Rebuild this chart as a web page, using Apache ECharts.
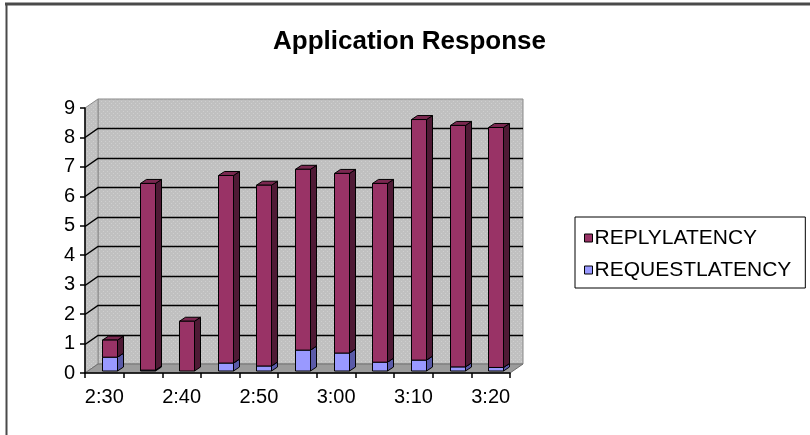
<!DOCTYPE html>
<html>
<head>
<meta charset="utf-8">
<script src="https://cdn.jsdelivr.net/npm/echarts@6/dist/echarts.min.js"></script>
<style>
  html, body { margin: 0; padding: 0; background: #fff; }
  #chart { width: 810px; height: 435px; }
</style>
</head>
<body>
<div id="chart"></div>
<script>
// Time slots along the category axis
const categories = ['2:30', '2:35', '2:40', '2:45', '2:50', '2:55', '3:00', '3:05', '3:10', '3:15', '3:20'];
// Stacked latency components
const requestLatency = [0.47, 0.03, 0, 0.27, 0.17, 0.71, 0.61, 0.30, 0.37, 0.14, 0.12];
const replyLatency   = [0.58, 6.34, 1.69, 6.37, 6.14, 6.14, 6.10, 6.07, 8.17, 8.20, 8.15];
// Value axis ticks
const yTicks = [0, 1, 2, 3, 4, 5, 6, 7, 8, 9];

const FONT = 'Liberation Sans, Arial, sans-serif';
// depth offset of the back wall and of each column
const DX = 13, DY = -9;
const BDX = 6, BDY = -4;
const BAR_W = 15, SHIFT_X = 5, SHIFT_Y = -2;

// faint dotted fill for the walls
function dotPattern() {
  const c = document.createElement('canvas');
  c.width = 4; c.height = 4;
  const g = c.getContext('2d');
  g.fillStyle = '#c0c0c0';
  g.fillRect(0, 0, 4, 4);
  g.fillStyle = '#cfcfcf';
  g.fillRect(1, 1, 1, 1);
  g.fillRect(3, 3, 1, 1);
  return { image: c, repeat: 'repeat' };
}
const wallFill = dotPattern();

// stacked ranges [index, base, top]
const requestData = categories.map((c, i) => [i, 0, requestLatency[i]]);
const replyData = categories.map((c, i) => [i, requestLatency[i], requestLatency[i] + replyLatency[i]]);

function renderWalls(params, api) {
  const n = categories.length;
  const bw = api.size([1, 0])[0];
  const xl = api.coord([0, 0])[0] - bw / 2;
  const xr = api.coord([n - 1, 0])[0] + bw / 2;
  const y0 = api.coord([0, yTicks[0]])[1];
  const yTop = api.coord([0, yTicks[yTicks.length - 1]])[1];
  const children = [];
  // back wall
  children.push({
    type: 'polygon',
    shape: { points: [[xl + DX, yTop + DY], [xr + DX, yTop + DY], [xr + DX, y0 + DY], [xl + DX, y0 + DY]] },
    style: { fill: wallFill, stroke: '#8a8a8a', lineWidth: 1 }
  });
  // left wall
  children.push({
    type: 'polygon',
    shape: { points: [[xl, yTop], [xl + DX, yTop + DY], [xl + DX, y0 + DY], [xl, y0]] },
    style: { fill: wallFill, stroke: '#8a8a8a', lineWidth: 1 }
  });
  // floor
  children.push({
    type: 'polygon',
    shape: { points: [[xl, y0], [xr, y0], [xr + DX, y0 + DY], [xl + DX, y0 + DY]] },
    style: { fill: '#9c9c9c', stroke: '#707070', lineWidth: 1 }
  });
  // grid lines on the back and left walls
  yTicks.slice(1, -1).forEach(v => {
    const y = Math.round(api.coord([0, v])[1]) + 0.5;
    children.push({
      type: 'polyline',
      shape: { points: [[xl, y], [xl + DX, y + DY], [xr + DX, y + DY]] },
      style: { stroke: '#000', lineWidth: 1.5, fill: null }
    });
  });
  return { type: 'group', children };
}

function renderColumn(colors) {
  return function (params, api) {
    const cx = api.coord([api.value(0), 0])[0];
    const yb = api.coord([0, api.value(1)])[1] + SHIFT_Y;
    const yt = api.coord([0, api.value(2)])[1] + SHIFT_Y;
    if (yb - yt < 0.4) return null;
    const x0 = Math.round(cx + SHIFT_X - BAR_W / 2) + 0.5;
    const x1 = x0 + BAR_W;
    const stroke = { stroke: '#000', lineWidth: 1 };
    return {
      type: 'group',
      children: [
        {
          type: 'polygon',
          shape: { points: [[x1, yt], [x1 + BDX, yt + BDY], [x1 + BDX, yb + BDY], [x1, yb]] },
          style: Object.assign({ fill: colors.side }, stroke)
        },
        {
          type: 'polygon',
          shape: { points: [[x0, yt], [x0 + BDX, yt + BDY], [x1 + BDX, yt + BDY], [x1, yt]] },
          style: Object.assign({ fill: colors.top }, stroke)
        },
        {
          type: 'rect',
          shape: { x: x0, y: yt, width: BAR_W, height: yb - yt },
          style: Object.assign({ fill: colors.front }, stroke)
        }
      ]
    };
  };
}

const chart = echarts.init(document.getElementById('chart'), null, { renderer: 'canvas' });

chart.setOption({
  animation: false,
  backgroundColor: '#fff',
  title: {
    text: 'Application Response',
    left: 268,
    top: 24,
    textStyle: { fontFamily: FONT, fontSize: 26, fontWeight: 'bold', color: '#000' }
  },
  legend: {
    orient: 'vertical',
    left: 575,
    top: 217,
    data: ['REPLYLATENCY', 'REQUESTLATENCY'],
    icon: 'rect',
    itemWidth: 8,
    itemHeight: 8,
    itemGap: 10,
    padding: [10, 14, 7, 9],
    borderColor: '#000',
    borderWidth: 1,
    borderRadius: 0,
    itemStyle: { borderColor: '#000', borderWidth: 1 },
    textStyle: { fontFamily: FONT, fontSize: 21, color: '#000', lineHeight: 22, padding: [0, 0, 0, -3] }
  },
  grid: { left: 85, right: 300, top: 108, bottom: 62, containLabel: false },
  xAxis: {
    type: 'category',
    data: categories,
    boundaryGap: true,
    z: 10,
    axisLine: { lineStyle: { color: '#000', width: 1.5 } },
    axisTick: { show: true, interval: 0, length: 5, lineStyle: { color: '#000', width: 1.5 } },
    axisLabel: { interval: 1, margin: 14, fontFamily: FONT, fontSize: 20, color: '#000' },
    splitLine: { show: false }
  },
  yAxis: {
    type: 'value',
    min: 0,
    max: 9,
    interval: 1,
    z: 10,
    axisLine: { show: true, lineStyle: { color: '#000', width: 1.5 } },
    axisTick: { show: true, length: 5, lineStyle: { color: '#000', width: 1.5 } },
    axisLabel: { margin: 10, fontFamily: FONT, fontSize: 20, color: '#000' },
    splitLine: { show: false }
  },
  graphic: [
    { type: 'line', shape: { x1: 5, y1: 4, x2: 810, y2: 4 }, style: { stroke: '#4a4a4a', lineWidth: 3 }, z: 100 },
    { type: 'line', shape: { x1: 6.5, y1: 4, x2: 6.5, y2: 435 }, style: { stroke: '#4a4a4a', lineWidth: 2 }, z: 100 }
  ],
  series: [
    {
      type: 'custom',
      name: 'walls',
      silent: true,
      z: 0,
      data: [[0]],
      renderItem: renderWalls
    },
    {
      type: 'custom',
      name: 'REQUESTLATENCY',
      z: 3,
      itemStyle: { color: '#9999ff' },
      encode: { x: 0, y: [1, 2] },
      data: requestData,
      renderItem: renderColumn({ front: '#9999ff', side: '#5a5aa8', top: '#7878d0' })
    },
    {
      type: 'custom',
      name: 'REPLYLATENCY',
      z: 4,
      itemStyle: { color: '#993366' },
      encode: { x: 0, y: [1, 2] },
      data: replyData,
      renderItem: renderColumn({ front: '#993366', side: '#4f1a35', top: '#7a2850' })
    }
  ]
});
</script>
</body>
</html>
